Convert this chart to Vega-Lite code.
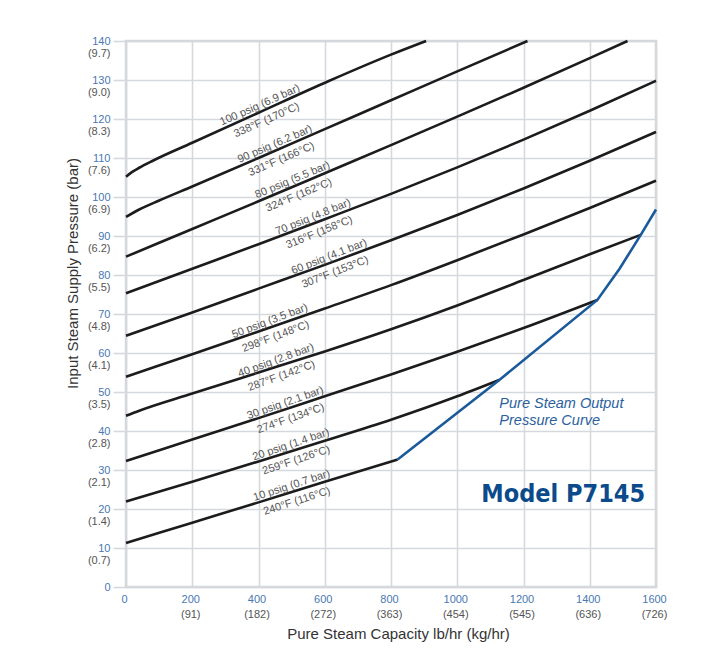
{
  "$schema": "https://vega.github.io/schema/vega-lite/v6.json",
  "width": 530,
  "height": 546,
  "autosize": {"type": "none"},
  "padding": {"left": 126, "top": 41, "right": 53, "bottom": 78},
  "background": "white",
  "config": {
    "view": {"stroke": "#d3d7dc", "strokeWidth": 2.5},
    "font": "Liberation Sans",
    "axis": {"labelFont": "Liberation Sans", "titleFont": "Liberation Sans", "labelFlush": false}
  },
  "datasets": {
    "curves": [
      {"curve": "10", "x": 0, "y": 11.3}, {"curve": "10", "x": 200, "y": 16.5}, {"curve": "10", "x": 400, "y": 21.7}, {"curve": "10", "x": 600, "y": 27.0}, {"curve": "10", "x": 820, "y": 32.7},
      {"curve": "20", "x": 0, "y": 21.9}, {"curve": "20", "x": 200, "y": 27.0}, {"curve": "20", "x": 400, "y": 32.2}, {"curve": "20", "x": 600, "y": 37.5}, {"curve": "20", "x": 800, "y": 42.9}, {"curve": "20", "x": 1000, "y": 48.9}, {"curve": "20", "x": 1127, "y": 53.1},
      {"curve": "30", "x": 0, "y": 32.3}, {"curve": "30", "x": 200, "y": 37.8}, {"curve": "30", "x": 400, "y": 43.3}, {"curve": "30", "x": 600, "y": 48.9}, {"curve": "30", "x": 800, "y": 54.5}, {"curve": "30", "x": 1000, "y": 60.3}, {"curve": "30", "x": 1200, "y": 66.4}, {"curve": "30", "x": 1423, "y": 73.6},
      {"curve": "40", "x": 0, "y": 43.9}, {"curve": "40", "x": 40, "y": 45.2}, {"curve": "40", "x": 200, "y": 49.6}, {"curve": "40", "x": 400, "y": 55.0}, {"curve": "40", "x": 600, "y": 60.4}, {"curve": "40", "x": 800, "y": 66.1}, {"curve": "40", "x": 1000, "y": 72.2}, {"curve": "40", "x": 1200, "y": 78.7}, {"curve": "40", "x": 1400, "y": 85.3}, {"curve": "40", "x": 1554, "y": 90.3},
      {"curve": "50", "x": 0, "y": 53.9}, {"curve": "50", "x": 200, "y": 59.7}, {"curve": "50", "x": 400, "y": 65.5}, {"curve": "50", "x": 600, "y": 71.4}, {"curve": "50", "x": 800, "y": 77.4}, {"curve": "50", "x": 1000, "y": 83.8}, {"curve": "50", "x": 1200, "y": 90.4}, {"curve": "50", "x": 1400, "y": 97.2}, {"curve": "50", "x": 1600, "y": 104.2},
      {"curve": "60", "x": 0, "y": 64.4}, {"curve": "60", "x": 200, "y": 70.4}, {"curve": "60", "x": 400, "y": 76.5}, {"curve": "60", "x": 600, "y": 82.6}, {"curve": "60", "x": 800, "y": 88.9}, {"curve": "60", "x": 1000, "y": 95.4}, {"curve": "60", "x": 1200, "y": 102.2}, {"curve": "60", "x": 1400, "y": 109.3}, {"curve": "60", "x": 1600, "y": 116.7},
      {"curve": "70", "x": 0, "y": 75.3}, {"curve": "70", "x": 200, "y": 81.6}, {"curve": "70", "x": 400, "y": 87.9}, {"curve": "70", "x": 600, "y": 94.3}, {"curve": "70", "x": 800, "y": 100.8}, {"curve": "70", "x": 1000, "y": 107.6}, {"curve": "70", "x": 1200, "y": 114.7}, {"curve": "70", "x": 1400, "y": 122.1}, {"curve": "70", "x": 1600, "y": 129.8},
      {"curve": "80", "x": 0, "y": 84.7}, {"curve": "80", "x": 200, "y": 91.8}, {"curve": "80", "x": 400, "y": 98.9}, {"curve": "80", "x": 600, "y": 106.1}, {"curve": "80", "x": 800, "y": 113.3}, {"curve": "80", "x": 1000, "y": 120.6}, {"curve": "80", "x": 1200, "y": 128.0}, {"curve": "80", "x": 1400, "y": 135.6}, {"curve": "80", "x": 1514, "y": 140},
      {"curve": "90", "x": 0, "y": 94.9}, {"curve": "90", "x": 40, "y": 96.8}, {"curve": "90", "x": 100, "y": 99.1}, {"curve": "90", "x": 200, "y": 102.7}, {"curve": "90", "x": 400, "y": 110.0}, {"curve": "90", "x": 600, "y": 117.4}, {"curve": "90", "x": 800, "y": 124.8}, {"curve": "90", "x": 1000, "y": 132.2}, {"curve": "90", "x": 1212, "y": 140},
      {"curve": "100", "x": 0, "y": 105.2}, {"curve": "100", "x": 20, "y": 106.5}, {"curve": "100", "x": 40, "y": 107.5}, {"curve": "100", "x": 81, "y": 109.3}, {"curve": "100", "x": 200, "y": 113.9}, {"curve": "100", "x": 400, "y": 121.6}, {"curve": "100", "x": 614, "y": 129.8}, {"curve": "100", "x": 800, "y": 136.5}, {"curve": "100", "x": 906, "y": 140}
    ],
    "output": [
      {"x": 820, "y": 32.7}, {"x": 1127, "y": 53.1}, {"x": 1423, "y": 73.6}, {"x": 1490, "y": 81.6}, {"x": 1554, "y": 90.3}, {"x": 1600, "y": 96.8}
    ],
    "labels": [
      {"psig": 10, "x": 506, "y": 24.5, "upper": "10 psig (0.7 bar)", "lower": "240°F (116°C)"},
      {"psig": 20, "x": 504, "y": 35.0, "upper": "20 psig (1.4 bar)", "lower": "259°F (126°C)"},
      {"psig": 30, "x": 487, "y": 45.7, "upper": "30 psig (2.1 bar)", "lower": "274°F (134°C)"},
      {"psig": 40, "x": 459, "y": 56.6, "upper": "40 psig (2.8 bar)", "lower": "287°F (142°C)"},
      {"psig": 50, "x": 441, "y": 66.7, "upper": "50 psig (3.5 bar)", "lower": "298°F (148°C)"},
      {"psig": 60, "x": 620, "y": 83.2, "upper": "60 psig (4.1 bar)", "lower": "307°F (153°C)"},
      {"psig": 70, "x": 572, "y": 93.4, "upper": "70 psig (4.8 bar)", "lower": "316°F (158°C)"},
      {"psig": 80, "x": 510, "y": 102.9, "upper": "80 psig (5.5 bar)", "lower": "324°F (162°C)"},
      {"psig": 90, "x": 457, "y": 112.1, "upper": "90 psig (6.2 bar)", "lower": "331°F (166°C)"},
      {"psig": 100, "x": 412, "y": 122.1, "upper": "100 psig (6.9 bar)", "lower": "338°F (170°C)"}
    ]
  },
  "layer": [
    {
      "data": {"name": "curves"},
      "mark": {"type": "line", "color": "#1c1c1c", "strokeWidth": 2.6, "interpolate": "monotone"},
      "encoding": {
        "x": {
          "field": "x", "type": "quantitative",
          "scale": {"domain": [0, 1600], "nice": false, "zero": false},
          "axis": {
            "values": [0, 200, 400, 600, 800, 1000, 1200, 1400, 1600],
            "format": "d",
            "grid": true, "gridColor": "#d5d9de", "gridWidth": 1.6,
            "ticks": false, "domain": false,
            "labelColor": "#4a78b0", "labelFontSize": 11, "labelPadding": 6, "labelOffset": -2,
            "title": "Pure Steam Capacity lb/hr (kg/hr)",
            "titleFontSize": 15, "titleFontWeight": "normal", "titleColor": "#333333",
            "titleX": 272, "titleY": 46, "titleBaseline": "middle", "titleAlign": "center"
          }
        },
        "y": {
          "field": "y", "type": "quantitative",
          "scale": {"domain": [0, 140], "nice": false, "zero": false},
          "axis": {
            "values": [0, 10, 20, 30, 40, 50, 60, 70, 80, 90, 100, 110, 120, 130, 140],
            "format": "d",
            "grid": true, "gridColor": "#d5d9de", "gridWidth": 1.6,
            "ticks": true, "tickSize": 13, "tickColor": "#d5d9de", "tickWidth": 1.6,
            "domain": false,
            "labelColor": "#4a78b0", "labelFontSize": 11, "labelPadding": 3,
            "title": "Input Steam Supply Pressure (bar)",
            "titleFontSize": 15, "titleFontWeight": "normal", "titleColor": "#333333",
            "titleX": -54, "titleY": 232, "titleBaseline": "middle", "titleAlign": "center", "titleAngle": -90
          }
        },
        "detail": {"field": "curve", "type": "nominal"}
      }
    },
    {
      "data": {"name": "output"},
      "mark": {"type": "line", "color": "#1b5a9a", "strokeWidth": 2.6},
      "encoding": {
        "x": {
          "field": "x", "type": "quantitative",
          "axis": {
            "orient": "bottom",
            "values": [0, 200, 400, 600, 800, 1000, 1200, 1400, 1600],
            "grid": false, "ticks": false, "domain": false,
            "labelExpr": "['', '(91)', '(182)', '(272)', '(363)', '(454)', '(545)', '(636)', '(726)'][round(datum.value / 200)]",
            "labelColor": "#555555", "labelFontSize": 11, "labelPadding": 21, "labelOffset": -2,
            "title": null
          }
        },
        "y": {
          "field": "y", "type": "quantitative",
          "axis": {
            "orient": "left",
            "values": [0, 10, 20, 30, 40, 50, 60, 70, 80, 90, 100, 110, 120, 130, 140],
            "grid": false, "ticks": false, "domain": false,
            "labelExpr": "['', '(0.7)', '(1.4)', '(2.1)', '(2.8)', '(3.5)', '(4.1)', '(4.8)', '(5.5)', '(6.2)', '(6.9)', '(7.6)', '(8.3)', '(9.0)', '(9.7)'][round(datum.value / 10)]",
            "labelColor": "#555555", "labelFontSize": 11, "labelPadding": 16, "labelOffset": 12.5,
            "title": null
          }
        }
      }
    },
    {
      "data": {"name": "labels"},
      "mark": {"type": "text", "baseline": "bottom", "align": "center", "dy": -1, "fontSize": 11, "color": "#555555", "font": "Liberation Sans"},
      "encoding": {
        "x": {"field": "x", "type": "quantitative", "axis": null},
        "y": {"field": "y", "type": "quantitative", "axis": null},
        "text": {"field": "upper"},
        "angle": {"field": "psig", "type": "quantitative", "scale": {"domain": [10, 100], "range": [342, 336]}}
      }
    },
    {
      "data": {"name": "labels"},
      "mark": {"type": "text", "baseline": "top", "align": "center", "dy": 4.5, "fontSize": 11, "color": "#555555", "font": "Liberation Sans"},
      "encoding": {
        "x": {"field": "x", "type": "quantitative", "axis": null},
        "y": {"field": "y", "type": "quantitative", "axis": null},
        "text": {"field": "lower"},
        "angle": {"field": "psig", "type": "quantitative", "scale": {"domain": [10, 100], "range": [342, 336]}}
      }
    },
    {
      "data": {"values": [
        {"x": 1127, "y": 46.9, "t": "Pure Steam Output"},
        {"x": 1127, "y": 42.6, "t": "Pressure Curve"}
      ]},
      "mark": {"type": "text", "align": "left", "baseline": "middle", "fontSize": 14.5, "fontStyle": "italic", "color": "#2b5f9e", "font": "Liberation Sans"},
      "encoding": {
        "x": {"field": "x", "type": "quantitative", "axis": null},
        "y": {"field": "y", "type": "quantitative", "axis": null},
        "text": {"field": "t"}
      }
    },
    {
      "data": {"values": [{"x": 1320, "y": 23.8, "t": "Model P7145"}]},
      "mark": {"type": "text", "align": "center", "baseline": "middle", "fontSize": 25, "fontWeight": "bold", "color": "#0b4a8b", "font": "DejaVu Sans Condensed"},
      "encoding": {
        "x": {"field": "x", "type": "quantitative", "axis": null},
        "y": {"field": "y", "type": "quantitative", "axis": null},
        "text": {"field": "t"}
      }
    }
  ],
  "resolve": {"axis": {"x": "independent", "y": "independent"}}
}
